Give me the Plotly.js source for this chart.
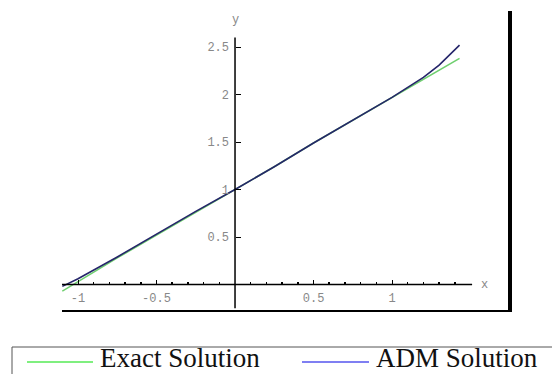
<!DOCTYPE html>
<html>
<head>
<meta charset="utf-8">
<script src="https://cdn.plot.ly/plotly-3.0.1.min.js"></script>
<style>html,body{margin:0;padding:0;background:#fff;}#chart{width:552px;height:374px;}</style>
</head>
<body>
<div id="chart"></div>
<script>
// ---- data ----
var xValues   = [-1.1, -1.0, -0.75, -0.5, -0.25, 0, 0.25, 0.5, 0.75, 1.0, 1.2, 1.3, 1.43];
var exactSol  = [-0.07, 0.03, 0.28, 0.52, 0.76, 1.0, 1.24, 1.49, 1.73, 1.97, 2.16, 2.26, 2.38];
var admSol    = [-0.02, 0.06, 0.29, 0.53, 0.77, 1.0, 1.24, 1.49, 1.73, 1.97, 2.18, 2.31, 2.52];
var seriesNames = ["Exact Solution", "ADM Solution"];
var xTickVals = [-1, -0.5, 0.5, 1];
var xTickText = ["-1", "-0.5", "0.5", "1"];
var xMinorVals = [-1.1, -0.9, -0.8, -0.7, -0.6, -0.4, -0.3, -0.2, -0.1, 0.1, 0.2, 0.3, 0.4, 0.6, 0.7, 0.8, 0.9, 1.1, 1.2, 1.3, 1.4];
var yTickVals = [0.5, 1, 1.5, 2, 2.5];
var yTickText = ["0.5", "1", "1.5", "2", "2.5"];

// ---- geometry ----
var W = 552, H = 374;
var M = {l: 62, r: 43, t: 11, b: 63};
var PW = W - M.l - M.r, PH = H - M.t - M.b;
function px(xp) { return (xp - M.l) / PW; }
function py(yp) { return (H - M.b - yp) / PH; }

var tickFont = {family: "Liberation Mono, monospace", size: 12, color: "#888"};
var legendFont = {family: "Liberation Serif, serif", size: 27, color: "#111"};
var exactColor = "#6fcf6f", admColor = "#25256a";

var traces = [
  {x: xValues, y: exactSol, name: seriesNames[0], type: "scatter", mode: "lines",
   line: {color: exactColor, width: 1.6}, hoverinfo: "skip"},
  {x: xValues, y: admSol, name: seriesNames[1], type: "scatter", mode: "lines",
   line: {color: admColor, width: 1.6}, hoverinfo: "skip"}
];

var layout = {
  width: W, height: H,
  margin: {l: M.l, r: M.r, t: M.t, b: M.b, autoexpand: false},
  paper_bgcolor: "#fff", plot_bgcolor: "#fff",
  showlegend: false,
  xaxis: {
    range: [-1.102, 1.745], anchor: "free", position: py(284.5),
    showline: false, zeroline: false, showgrid: false,
    ticks: "inside", ticklen: 5, tickwidth: 1, tickcolor: "#000",
    tickmode: "array", tickvals: xTickVals, ticktext: xTickText,
    tickfont: tickFont, ticklabelstandoff: 4,
    minor: {tickmode: "array", tickvals: xMinorVals, ticks: "inside", ticklen: 3, tickwidth: 1.5, tickcolor: "#000", showgrid: false}
  },
  yaxis: {
    range: [-0.279, 2.879], anchor: "free", position: px(235), side: "left",
    showline: false, zeroline: false, showgrid: false,
    ticks: "inside", ticklen: 5, tickwidth: 1, tickcolor: "#000",
    tickmode: "array", tickvals: yTickVals, ticktext: yTickText,
    tickfont: tickFont, ticklabelstandoff: 6
  },
  shapes: [
    // axes
    {type: "line", xref: "x", yref: "y", x0: -1.102, x1: 1.51, y0: 0, y1: 0, line: {color: "#000", width: 1.5}},
    {type: "line", xref: "x", yref: "y", x0: 0, x1: 0, y0: -0.25, y1: 2.6, line: {color: "#000", width: 1.5}},
    // frame (right and bottom)
    {type: "line", xref: "paper", yref: "paper", x0: px(510), x1: px(510), y0: 0, y1: 1, line: {color: "#000", width: 4}},
    {type: "line", xref: "paper", yref: "paper", x0: 0, x1: px(512), y0: py(311), y1: py(311), line: {color: "#000", width: 2}},
    // legend box
    {type: "rect", xref: "paper", yref: "paper", x0: px(12), x1: px(570), y0: py(347), y1: py(390), line: {color: "#555", width: 1}, fillcolor: "rgba(0,0,0,0)"},
    {type: "line", xref: "paper", yref: "paper", x0: px(27), x1: px(93), y0: py(362), y1: py(362), line: {color: "#00e000", width: 1.2}},
    {type: "line", xref: "paper", yref: "paper", x0: px(302), x1: px(369), y0: py(362), y1: py(362), line: {color: "#0000e6", width: 1.2}}
  ],
  annotations: [
    {xref: "x", yref: "y", x: 1.59, y: 0, text: "x", showarrow: false, font: tickFont, xanchor: "center", yanchor: "middle"},
    {xref: "x", yref: "y", x: 0, y: 2.78, text: "y", showarrow: false, font: tickFont, xanchor: "center", yanchor: "middle"},
    {xref: "paper", yref: "paper", x: px(98), y: py(358.5), text: seriesNames[0], showarrow: false, font: legendFont, xanchor: "left", yanchor: "middle"},
    {xref: "paper", yref: "paper", x: px(374), y: py(358.5), text: seriesNames[1], showarrow: false, font: legendFont, xanchor: "left", yanchor: "middle"}
  ]
};

Plotly.newPlot("chart", traces, layout, {displayModeBar: false, staticPlot: true});
</script>
</body>
</html>
